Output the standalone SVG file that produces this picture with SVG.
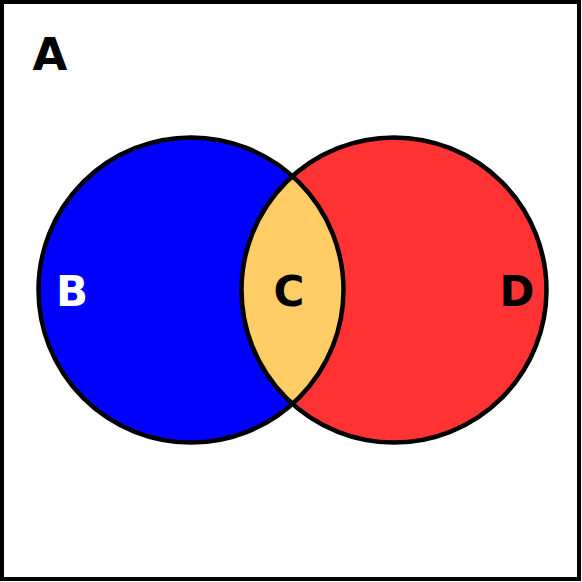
<svg xmlns="http://www.w3.org/2000/svg" width="582" height="582" viewBox="0 0 582 582">
<style>
.lbl{font-family:"DejaVu Sans","Liberation Sans",sans-serif;font-weight:bold;text-anchor:middle}
.ring{fill:none;stroke:#000;stroke-width:4.5}
</style>
<rect x="0" y="0" width="582" height="582" fill="#fff"/>
<rect x="2" y="2" width="577" height="577" fill="none" stroke="#000" stroke-width="4"/>
<g id="A"><text class="lbl" x="50" y="70" font-size="45" fill="#000">A</text></g>
<g id="B">
<circle cx="191" cy="290" r="152.5" fill="#0000ff"/>
</g>
<g id="D">
<circle cx="394" cy="290" r="152.5" fill="#ff3333"/>
</g>
<g id="C">
<path d="M292.5 176.2 A152.5 152.5 0 0 1 292.5 403.8 A152.5 152.5 0 0 1 292.5 176.2 Z" fill="#ffcc66"/>
</g>
<g id="connectors">
<circle class="ring" cx="191" cy="290" r="152.5"/>
<circle class="ring" cx="394" cy="290" r="152.5"/>
</g>
<text class="lbl" x="72" y="306" font-size="42" fill="#fff">B</text>
<text class="lbl" x="289" y="306" font-size="42" fill="#000">C</text>
<text class="lbl" x="517" y="306" font-size="42" fill="#000">D</text>
</svg>
